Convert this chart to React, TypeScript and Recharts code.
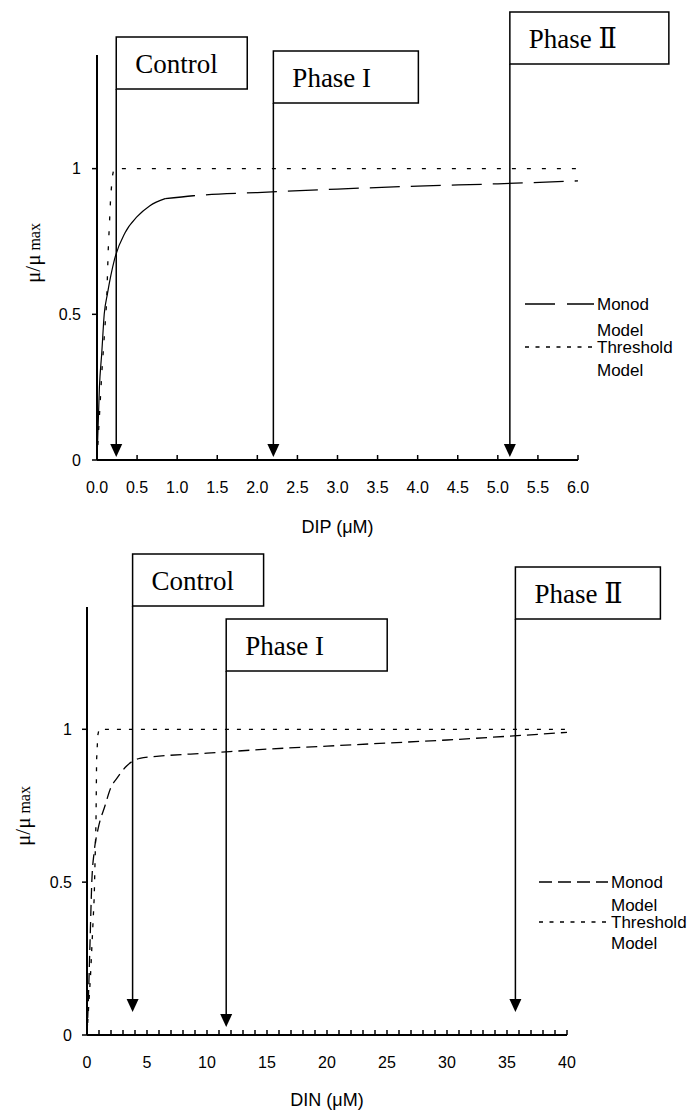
import React from 'react';
import { LineChart, Line, XAxis, YAxis, ReferenceLine, Legend } from 'recharts';

// ---- DIP panel (top) ----
const dipTicks = [0, 0.5, 1, 1.5, 2, 2.5, 3, 3.5, 4, 4.5, 5, 5.5, 6];
const dipMonodSolidX = [0, 0.03, 0.06, 0.09, 0.13, 0.22, 0.35, 0.5, 0.66, 0.85];
const dipMonodSolidY = [0, 0.25, 0.37, 0.5, 0.57, 0.69, 0.78, 0.835, 0.873, 0.897];
const dipMonodDashX = [0.85, 1.2, 2, 3, 4, 5, 6];
const dipMonodDashY = [0.897, 0.907, 0.918, 0.93, 0.94, 0.948, 0.958];
const dipThresholdX = [0, 0.06, 0.12, 0.14, 0.17, 0.19, 0.21, 6];
const dipThresholdY = [0, 0.3, 0.54, 0.72, 0.9, 0.97, 1, 1];
const dipMarkerX = [0.24, 2.2, 5.15];

// ---- DIN panel (bottom) ----
const dinTicks = Array.from({ length: 41 }, (_, i) => i);
const dinMonodX = [0, 0.1, 0.25, 0.4, 0.6, 0.9, 1.5, 2, 2.5, 3.3, 4.4, 6, 10, 15, 20, 25, 30, 35, 40];
const dinMonodY = [0, 0.1, 0.3, 0.5, 0.6, 0.67, 0.75, 0.81, 0.84, 0.88, 0.905, 0.912, 0.922, 0.935, 0.945, 0.955, 0.965, 0.977, 0.99];
const dinThresholdX = [0, 0.3, 0.6, 0.75, 0.8, 0.9, 1, 40];
const dinThresholdY = [0, 0.2, 0.45, 0.7, 0.9, 0.98, 1, 1];
const dinMarkerX = [3.8, 11.6, 35.7];

const markerLabels = ['Control', 'Phase I', 'Phase Ⅱ'];
const yTicks = [0, 0.5, 1];

const pts = (xs: number[], ys: number[]) => xs.map((x, i) => ({ x, y: ys[i] }));

const SANS = "'Liberation Sans', Arial, sans-serif";
const SERIF = "'Liberation Serif', 'Times New Roman', 'DejaVu Serif', serif";

// flag box geometry, relative to the plot top
const dipFlags = [
  { boxTop: -18, boxWidth: 131, tip: 402 },
  { boxTop: -4, boxWidth: 145, tip: 402 },
  { boxTop: -43, boxWidth: 159, tip: 402 },
];
const dinFlags = [
  { boxTop: -53, boxWidth: 131, tip: 405 },
  { boxTop: 12, boxWidth: 161, tip: 420 },
  { boxTop: -40, boxWidth: 145, tip: 405 },
];

const FlagLabel = (props: any) => {
  const { viewBox, text, boxTop, boxWidth, tip } = props;
  const x = viewBox.x;
  const top = viewBox.y + boxTop;
  const bottom = top + 52;
  const tipY = viewBox.y + tip;
  return (
    <g>
      <rect x={x} y={top} width={boxWidth} height={52} fill="#fff" stroke="#000" strokeWidth={1.5} />
      <text x={x + 19} y={top + 36} fontFamily={SERIF} fontSize={27} fill="#000">{text}</text>
      <line x1={x} y1={bottom} x2={x} y2={tipY - 12} stroke="#000" strokeWidth={1.5} />
      <polygon points={`${x - 6},${tipY - 13} ${x + 6},${tipY - 13} ${x},${tipY}`} fill="#000" />
    </g>
  );
};

const XTitle = (props: any) => {
  const { viewBox, value, dy } = props;
  return (
    <text x={viewBox.x + viewBox.width / 2} y={viewBox.y + dy} textAnchor="middle" dominantBaseline="central"
      fontFamily={SANS} fontSize={18} fill="#000">{value}</text>
  );
};

const YTitle = (props: any) => {
  const { viewBox, tx, cy } = props;
  const y = viewBox.y + cy;
  return (
    <text x={tx} y={y} transform={`rotate(-90, ${tx}, ${y})`} textAnchor="middle" fontFamily={SERIF} fontSize={21} fill="#000">
      μ/μ<tspan fontSize={16}> max</tspan>
    </text>
  );
};

const ModelLegend = ({ monodDash, rows }: { monodDash: string; rows: number[] }) => (
  <svg width={175} height={100} style={{ overflow: 'visible' }}>
    <line x1={4} y1={rows[0]} x2={73} y2={rows[0]} stroke="#000" strokeWidth={1.3} strokeDasharray={monodDash} />
    <text x={76} y={rows[0]} dominantBaseline="central" fontFamily={SANS} fontSize={17}>Monod</text>
    <text x={76} y={rows[1]} dominantBaseline="central" fontFamily={SANS} fontSize={17}>Model</text>
    <line x1={4} y1={rows[2]} x2={73} y2={rows[2]} stroke="#000" strokeWidth={1.3} strokeDasharray="4 6.5" />
    <text x={76} y={rows[2]} dominantBaseline="central" fontFamily={SANS} fontSize={17}>Threshold</text>
    <text x={76} y={rows[3]} dominantBaseline="central" fontFamily={SANS} fontSize={17}>Model</text>
  </svg>
);

const axisLine = { stroke: '#000', strokeWidth: 2 };
const tickLine = { stroke: '#000', strokeWidth: 1.5 };
const tickStyle = { fill: '#000', fontSize: 16, fontFamily: SANS };

const App: React.FC = () => {
  return (
    <div style={{ position: 'absolute', left: 0, top: 0, width: 693, height: 1110, background: '#fff' }}>
      {/* DIP */}
      <LineChart width={693} height={550} margin={{ top: 55, right: 115, bottom: 0, left: 0 }}>
        <XAxis type="number" dataKey="x" domain={[0, 6]} ticks={dipTicks} interval={0} allowDataOverflow
          tickFormatter={(v: number) => v.toFixed(1)} height={90} axisLine={axisLine} tickLine={tickLine}
          tick={tickStyle} tickSize={-5} tickMargin={27}
          label={<XTitle value="DIP (μM)" dy={67} />} />
        <YAxis type="number" domain={[0, 1.39]} ticks={yTicks} allowDataOverflow width={97}
          axisLine={axisLine} tickLine={tickLine} tick={tickStyle} tickSize={5} tickMargin={11}
          label={<YTitle tx={40} cy={198} />} />
        <Line data={pts(dipThresholdX, dipThresholdY)} dataKey="y" type="linear" stroke="#000" strokeWidth={1.3}
          strokeDasharray="4 11" dot={false} isAnimationActive={false} legendType="none" />
        <Line data={pts(dipMonodSolidX, dipMonodSolidY)} dataKey="y" type="monotone" stroke="#000" strokeWidth={1.2}
          dot={false} isAnimationActive={false} legendType="none" />
        <Line data={pts(dipMonodDashX, dipMonodDashY)} dataKey="y" type="monotone" stroke="#000" strokeWidth={1.3}
          strokeDasharray="30 11" dot={false} isAnimationActive={false} legendType="none" />
        {dipMarkerX.map((v, i) => (
          <ReferenceLine key={i} x={v} stroke="none" label={<FlagLabel text={markerLabels[i]} {...dipFlags[i]} />} />
        ))}
        <Legend layout="vertical" align="center" verticalAlign="middle"
          wrapperStyle={{ position: 'absolute', left: 521, top: 290, width: 175, height: 100 }}
          content={() => <ModelLegend monodDash="30 12" rows={[14, 40, 57, 80]} />} />
      </LineChart>

      {/* DIN */}
      <LineChart width={693} height={560} margin={{ top: 57, right: 126, bottom: 0, left: 0 }}>
        <XAxis type="number" dataKey="x" domain={[0, 40]} ticks={dinTicks} interval={0} allowDataOverflow
          tickFormatter={(v: number) => (v % 5 === 0 ? String(v) : '')} height={75} axisLine={axisLine}
          tickLine={tickLine} tick={tickStyle} tickSize={-5} tickMargin={27}
          label={<XTitle value="DIN (μM)" dy={65} />} />
        <YAxis type="number" domain={[0, 1.4]} ticks={yTicks} allowDataOverflow width={87}
          axisLine={axisLine} tickLine={tickLine} tick={tickStyle} tickSize={5} tickMargin={10}
          label={<YTitle tx={30} cy={209} />} />
        <Line data={pts(dinThresholdX, dinThresholdY)} dataKey="y" type="linear" stroke="#000" strokeWidth={1.3}
          strokeDasharray="4 8" dot={false} isAnimationActive={false} legendType="none" />
        <Line data={pts(dinMonodX, dinMonodY)} dataKey="y" type="monotone" stroke="#000" strokeWidth={1.3}
          strokeDasharray="11 6" dot={false} isAnimationActive={false} legendType="none" />
        {dinMarkerX.map((v, i) => (
          <ReferenceLine key={i} x={v} stroke="none" label={<FlagLabel text={markerLabels[i]} {...dinFlags[i]} />} />
        ))}
        <Legend layout="vertical" align="center" verticalAlign="middle"
          wrapperStyle={{ position: 'absolute', left: 535, top: 318, width: 175, height: 100 }}
          content={() => <ModelLegend monodDash="13 6" rows={[14, 37, 54, 75]} />} />
      </LineChart>
    </div>
  );
};

export default App;
